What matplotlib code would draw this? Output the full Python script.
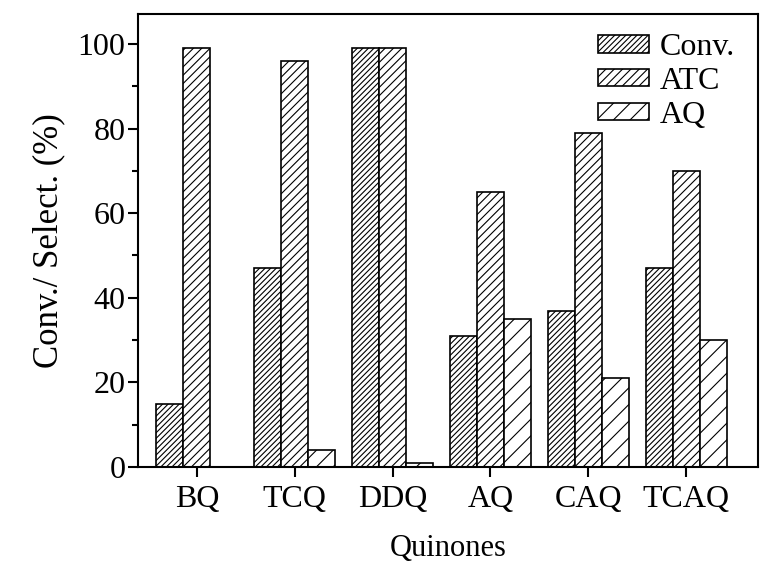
import numpy as np
import matplotlib
matplotlib.use("Agg")
import matplotlib.pyplot as plt

plt.rcParams["font.family"] = ["Liberation Serif", "DejaVu Serif"]
plt.rcParams["hatch.linewidth"] = 0.8

quinonas = ["BQ", "TCQ", "DDQ", "AQ", "CAQ", "TCAQ"]
conv = [15, 47, 99, 31, 37, 47]
atc = [99, 96, 99, 65, 79, 70]
aq = [0, 4, 1, 35, 21, 30]

x = np.arange(len(quinonas))
ancho = 0.275

fig = plt.figure(figsize=(7.82, 5.71), dpi=100)
ax = fig.add_axes([0.1765, 0.182, 0.7925, 0.793])

ax.bar(x - ancho, conv, ancho, color="white", edgecolor="black", hatch="//////", linewidth=1.2, label="Conv.")
ax.bar(x, atc, ancho, color="white", edgecolor="black", hatch="////", linewidth=1.2, label="ATC")
ax.bar(x + ancho, aq, ancho, color="white", edgecolor="black", hatch="//", linewidth=1.2, label="AQ")

ax.set_xlim(-0.6, 5.73)
ax.set_ylim(0, 107)
ax.set_xticks(x)
ax.set_xticklabels(quinonas)
ax.set_yticks([0, 20, 40, 60, 80, 100])
ax.set_yticks([10, 30, 50, 70, 90], minor=True)
ax.tick_params(axis="both", direction="out", labelsize=23, width=1.5, length=7)
ax.tick_params(axis="y", which="minor", direction="out", width=1.5, length=4)
ax.tick_params(axis="y", pad=2)
ax.tick_params(axis="x", pad=6)
for lado in ax.spines.values():
    lado.set_linewidth(1.5)

ax.set_xlabel("Quinones", fontsize=22, labelpad=14)
ax.set_ylabel("Conv./ Select. (%)", fontsize=25, labelpad=9)

ax.legend(loc="upper right", frameon=False, fontsize=23, handlelength=1.6, handleheight=0.45,
          labelspacing=0.15, borderaxespad=0.2, handletextpad=0.35, bbox_to_anchor=(0.995, 1.0))

fig.savefig("out.png", dpi=100)
